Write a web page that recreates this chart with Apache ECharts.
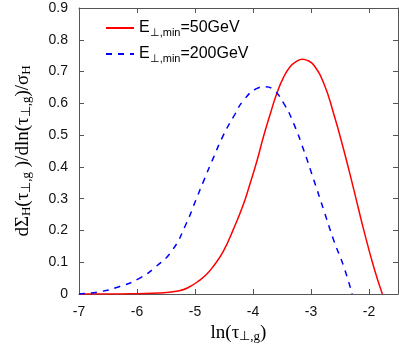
<!DOCTYPE html>
<html><head><meta charset="utf-8">
<script src="https://cdn.jsdelivr.net/npm/echarts@6/dist/echarts.min.js"></script>
<style>html,body{margin:0;padding:0;background:#fff}#c{width:399px;height:356px}</style>
</head><body><div id="c"></div>
<script>
const redX = [-7, -6.5, -6, -5.6, -5.27, -5.1, -4.93, -4.8, -4.68, -4.51, -4.335, -4.16, -4.05, -3.93, -3.82, -3.7, -3.59, -3.47, -3.36, -3.25, -3.15, -3.05, -2.95, -2.78, -2.61, -2.435, -2.26, -2.09, -1.92, -1.77];
const redY = [0, 0, 0.001, 0.003, 0.01, 0.022, 0.042, 0.062, 0.088, 0.135, 0.205, 0.285, 0.348, 0.42, 0.495, 0.568, 0.631, 0.683, 0.715, 0.732, 0.739, 0.734, 0.72, 0.663, 0.568, 0.453, 0.327, 0.201, 0.086, 0];
const blueX = [-7, -6.65, -6.31, -5.96, -5.675, -5.39, -5.16, -4.98, -4.85, -4.68, -4.51, -4.335, -4.16, -3.93, -3.8, -3.65, -3.47, -3.3, -3.126, -2.95, -2.78, -2.61, -2.435, -2.29];
const blueY = [0, 0.007, 0.023, 0.049, 0.086, 0.138, 0.218, 0.298, 0.356, 0.43, 0.5, 0.558, 0.61, 0.647, 0.652, 0.643, 0.6, 0.537, 0.453, 0.358, 0.264, 0.17, 0.086, 0];
const seriesNames = ['E⊥,min=50GeV', 'E⊥,min=200GeV'];
const legendRich = ['{m|E}{s|⊥,min}{m|=50GeV}', '{m|E}{s|⊥,min}{m|=200GeV}'];
const xTitle = 'ln(τ{s|⊥,g})';
const yTitle = 'dΣ{s|H}(τ{s|⊥,g} )/dln(τ{s|⊥,g})/σ{s|H}';

const pair = (xs, ys) => xs.map((x, i) => [x, ys[i]]);
const axisColor = '#555';
const sansFont = '"Liberation Sans", Arial, sans-serif';
const serifFont = '"Liberation Serif", "Times New Roman", serif';
const titleRich = {
  m: {fontFamily: serifFont, fontSize: 19, lineHeight: 22, color: '#000'},
  s: {fontFamily: serifFont, fontSize: 13, lineHeight: 12, verticalAlign: 'bottom', color: '#000'}
};
const chart = echarts.init(document.getElementById('c'), null, {renderer: 'canvas'});
chart.setOption({
  animation: false,
  backgroundColor: '#fff',
  grid: {left: 79, right: 1, top: 8, bottom: 62, containLabel: false},
  legend: {
    orient: 'vertical', left: 100, top: 15, itemWidth: 28, itemHeight: 10, itemGap: 8,
    data: seriesNames,
    itemStyle: {opacity: 0},
    formatter: name => legendRich[seriesNames.indexOf(name)],
    textStyle: {
      fontFamily: sansFont, fontSize: 16, color: '#000',
      rich: {
        m: {fontFamily: sansFont, fontSize: 16, lineHeight: 20, color: '#000'},
        s: {fontFamily: sansFont, fontSize: 11, lineHeight: 10, verticalAlign: 'bottom', color: '#000'}
      }
    }
  },
  xAxis: [{
    type: 'value', min: -7, max: -1.5, interval: 1, position: 'bottom',
    name: xTitle, nameLocation: 'middle', nameGap: 28,
    nameTextStyle: {fontFamily: serifFont, fontSize: 19, color: '#000', rich: titleRich},
    axisLine: {show: true, onZero: false, lineStyle: {color: axisColor, width: 1}},
    axisTick: {show: true, inside: true, length: 5, lineStyle: {color: axisColor}},
    axisLabel: {margin: 11, fontFamily: sansFont, fontSize: 14, color: '#111', showMaxLabel: false,
      formatter: v => Number.isInteger(v) ? String(v) : ''},
    splitLine: {show: false}
  }, {
    type: 'value', min: -7, max: -1.5, interval: 1, position: 'top',
    axisLine: {show: true, onZero: false, lineStyle: {color: axisColor, width: 1}},
    axisTick: {show: true, inside: true, length: 5, lineStyle: {color: axisColor}},
    axisLabel: {show: false}, splitLine: {show: false}
  }],
  yAxis: [{
    type: 'value', min: 0, max: 0.9, interval: 0.1, position: 'left',
    name: yTitle, nameLocation: 'middle', nameRotate: 90, nameGap: 46,
    nameTextStyle: {fontFamily: serifFont, fontSize: 19, color: '#000', rich: titleRich},
    axisLine: {show: true, onZero: false, lineStyle: {color: axisColor, width: 1}},
    axisTick: {show: true, inside: true, length: 5, lineStyle: {color: axisColor}},
    axisLabel: {margin: 11, fontFamily: sansFont, fontSize: 14, color: '#111',
      formatter: v => v === 0 ? '0' : v.toFixed(1)},
    splitLine: {show: false}
  }, {
    type: 'value', min: 0, max: 0.9, interval: 0.1, position: 'right',
    axisLine: {show: true, onZero: false, lineStyle: {color: axisColor, width: 1}},
    axisTick: {show: true, inside: true, length: 5, lineStyle: {color: axisColor}},
    axisLabel: {show: false}, splitLine: {show: false}
  }],
  series: [{
    name: seriesNames[0], type: 'line', xAxisIndex: 0, yAxisIndex: 0,
    data: pair(redX, redY), smooth: 0.5, symbol: 'none',
    lineStyle: {color: '#ff0000', width: 1.5}, itemStyle: {color: '#ff0000'}
  }, {
    name: seriesNames[1], type: 'line', xAxisIndex: 0, yAxisIndex: 0,
    data: pair(blueX, blueY), smooth: 0.5, symbol: 'none',
    lineStyle: {color: '#0000ff', width: 1.5, type: [6, 6]}, itemStyle: {color: '#0000ff'}
  }]
});
</script></body></html>
